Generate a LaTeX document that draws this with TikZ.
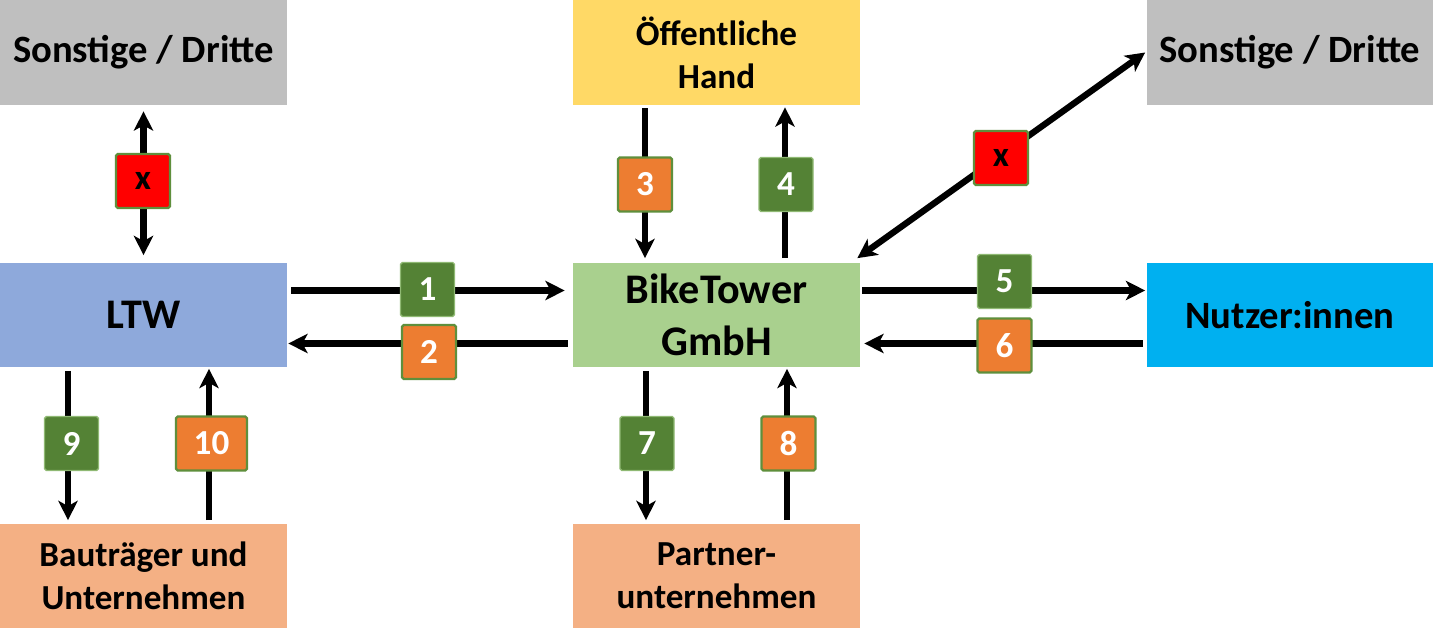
\documentclass[tikz,border=0pt]{standalone}
\usepackage{fontspec}
\setmainfont{Carlito}
\usetikzlibrary{arrows.meta, calc}
\definecolor{grey1}{HTML}{BFBFBF}
\definecolor{yellow1}{HTML}{FFD966}
\definecolor{blue1}{HTML}{8EA9DB}
\definecolor{green1}{HTML}{A9D08E}
\definecolor{cyan1}{HTML}{00B0F0}
\definecolor{salmon1}{HTML}{F4B084}
\definecolor{darkgreen}{HTML}{548235}
\definecolor{orange1}{HTML}{ED7D31}
\definecolor{frame1}{HTML}{5F8F3C}
\tikzstyle{party} = [rectangle,
minimum width=5.74cm,
minimum height=2.1cm,
text centered,
align=center,
inner sep=0pt,
font=\bfseries\fontsize{22}{26}\selectfont]
\tikzstyle{numbox} = [rectangle,
minimum width=1.08cm,
minimum height=1.08cm,
inner sep=0pt,
rounded corners=1pt,
draw=frame1,line width=1.3pt,
font=\bfseries\fontsize{20}{22}\selectfont]
\tikzstyle{flowin} = [numbox,fill=darkgreen,text=white,draw=green1!70!darkgreen,line width=0.8pt]
\tikzstyle{flowout} = [numbox,fill=orange1,text=white]
\tikzstyle{other} = [numbox,fill=red,text=black]
\tikzstyle{arrow} = [line width=3.6pt,-{Stealth[length=11pt,width=11pt,inset=3pt]}]
\tikzstyle{dblarrow} = [line width=3.6pt,{Stealth[length=11pt,width=11pt,inset=3pt]}-{Stealth[length=11pt,width=11pt,inset=3pt]}]

\begin{document}
\begin{tikzpicture}[x=0.02cm,y=-0.02cm]

\fill [white] (0,0) rectangle (1434,631);

\node (son1) [party, fill=grey1] at (143.5,52) {Sonstige / Dritte};
\node (oeff) [party, fill=yellow1, font=\bfseries\fontsize{20}{24.5}\selectfont] at (716.5,52) {Öffentliche\\Hand};
\node (son2) [party, fill=grey1] at (1290,52) {Sonstige / Dritte};
\node (ltw) [party, fill=blue1, font=\bfseries\fontsize{24}{29}\selectfont] at (143.5,314.5) {LTW};
\node (bike) [party, fill=green1, font=\bfseries\fontsize{24}{29.5}\selectfont] at (716.5,314.5) {BikeTower\\GmbH};
\node (nutzer) [party, fill=cyan1] at (1290,314.5) {Nutzer:innen};
\node (bau) [party, fill=salmon1, font=\bfseries\fontsize{20}{24.5}\selectfont] at (143.5,575.5) {Bauträger und\\Unternehmen};
\node (partner) [party, fill=salmon1, font=\bfseries\fontsize{20}{24.5}\selectfont] at (716.5,575.5) {Partner-\\unternehmen};

% Fluesse
\draw [dblarrow] ($(son1.south)+(0,6)$) -- ($(ltw.north)+(0,-7)$);
\draw [arrow] ($(ltw.east)+(4,-24.5)$) -- ($(bike.west)+(-8,-24.5)$);
\draw [arrow] ($(bike.west)+(-5,28.5)$) -- ($(ltw.east)+(1,28.5)$);
\draw [arrow] ($(oeff.south)+(-71.5,3)$) -- ($(bike.north)+(-71.5,-4)$);
\draw [arrow] ($(bike.north)+(68.5,-4)$) -- ($(oeff.south)+(68.5,2)$);
\draw [dblarrow] ($(bike.north east)+(-3,-4)$) -- ($(son2.west)+(-1,0)$);
\draw [arrow] ($(bike.east)+(2,-24.5)$) -- ($(nutzer.west)+(-1,-24.5)$);
\draw [arrow] ($(nutzer.west)+(-3,28.5)$) -- ($(bike.east)+(4,28.5)$);
\draw [arrow] ($(bike.south)+(-70.5,3)$) -- ($(partner.north)+(-70.5,-3)$);
\draw [arrow] ($(partner.north)+(70.5,-3)$) -- ($(bike.south)+(70.5,1)$);
\draw [arrow] ($(ltw.south)+(-75.5,3)$) -- ($(bau.north)+(-75.5,-3)$);
\draw [arrow] ($(bau.north)+(65.5,-3)$) -- ($(ltw.south)+(65.5,1)$);

% Nummern
\node (xl) [other] at (143,180.5) {x};
\node (n1) [flowin] at (427.5,289) {1};
\node (n2) [flowout] at (429,351.5) {2};
\node (n3) [flowout] at (645,184) {3};
\node (n4) [flowin] at (786,184) {4};
\node (xr) [other] at (1001,157.5) {x};
\node (n5) [flowin] at (1004.5,281) {5};
\node (n6) [flowout] at (1004.5,345) {6};
\node (n7) [flowin] at (647,443) {7};
\node (n8) [flowout] at (788.5,443) {8};
\node (n9) [flowin] at (71.5,443) {9};
\node (n10) [flowout, minimum width=1.42cm] at (211.5,443) {10};

\end{tikzpicture}
\end{document}
